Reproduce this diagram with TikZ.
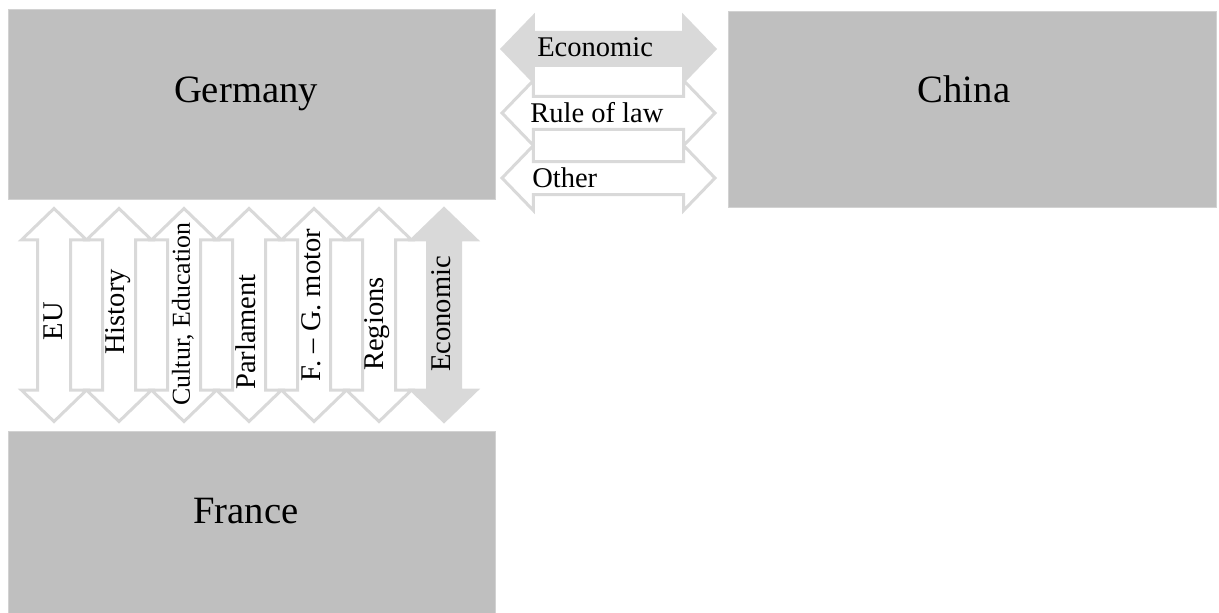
\documentclass[tikz,border=0pt]{standalone}
\usepackage{fontspec}
\setmainfont{Liberation Serif}
\usepackage{tikz}
\usetikzlibrary{shapes.arrows}
\definecolor{boxgray}{HTML}{BFBFBF}
\definecolor{arrowgray}{HTML}{D9D9D9}

\begin{document}
\begin{tikzpicture}[x=0.75pt, y=-0.75pt,
		country/.style={fill=boxgray, draw=boxgray!70!white, line width=0.75pt, inner sep=0pt},
		link/.style={double arrow, draw=arrowgray, line width=2.25pt, fill=white,
			inner xsep=0pt, inner ysep=15*0.75pt, minimum height=213*0.75pt,
			double arrow head extend=16*0.75pt, double arrow tip angle=92},
		strong/.style={link, fill=arrowgray},
		cname/.style={font=\fontsize{29}{34}\selectfont, anchor=base, inner sep=0pt},
		lbl/.style={font=\fontsize{21.4}{25}\selectfont, inner sep=0pt}]
		\useasboundingbox (0,0) rectangle (1219,613);
		% countries
		\node [country, minimum width=487*0.75pt, minimum height=189*0.75pt] (germany) at (251.5, 104.5) {};
		\node [country, minimum width=488*0.75pt, minimum height=195*0.75pt] (china) at (972, 109.5) {};
		\node [country, minimum width=487*0.75pt, minimum height=185*0.75pt] (france) at (251.5, 523.5) {};
		\node [cname] (germany-txt) at (246, 103) {Germany};
		\node [cname] (china-txt) at (964, 103) {China};
		\node [cname] (france-txt) at (246, 523) {France};
		% germany - china
		\node [strong] (gc-econ) at (608.5, 49) {};
		\node [link] (gc-law) at (608.5, 113) {};
		\node [link] (gc-other) at (608.5, 178) {};
		\node [lbl, anchor=west] (gc-econ-txt) at (537, 47) {Economic};
		\node [lbl, anchor=west] (gc-law-txt) at (530, 113) {Rule of law};
		\node [lbl, anchor=west] (gc-other-txt) at (532, 178) {Other};
		% germany - france
		\node [link, rotate=90] (gf-eu) at (54, 315) {};
		\node [link, rotate=90] (gf-hist) at (119, 315) {};
		\node [link, rotate=90] (gf-cult) at (184, 315) {};
		\node [link, rotate=90] (gf-parl) at (249, 315) {};
		\node [link, rotate=90] (gf-motor) at (314, 315) {};
		\node [link, rotate=90] (gf-reg) at (379, 315) {};
		\node [strong, rotate=90] (gf-econ) at (444, 315) {};
		\node [lbl, rotate=90] (gf-eu-txt) at (53, 321) {EU};
		\node [lbl, rotate=90] (gf-hist-txt) at (118, 312) {History};
		\node [lbl, rotate=90, font=\fontsize{19.4}{23}\selectfont] (gf-cult-txt) at (183, 314) {Cultur, Education};
		\node [lbl, rotate=90] (gf-parl-txt) at (246, 332) {Parlament};
		\node [lbl, rotate=90] (gf-motor-txt) at (311, 305) {F. -- G. motor};
		\node [lbl, rotate=90] (gf-reg-txt) at (377, 324) {Regions};
		\node [lbl, rotate=90] (gf-econ-txt) at (441, 314) {Economic};
	\end{tikzpicture}
\end{document}
